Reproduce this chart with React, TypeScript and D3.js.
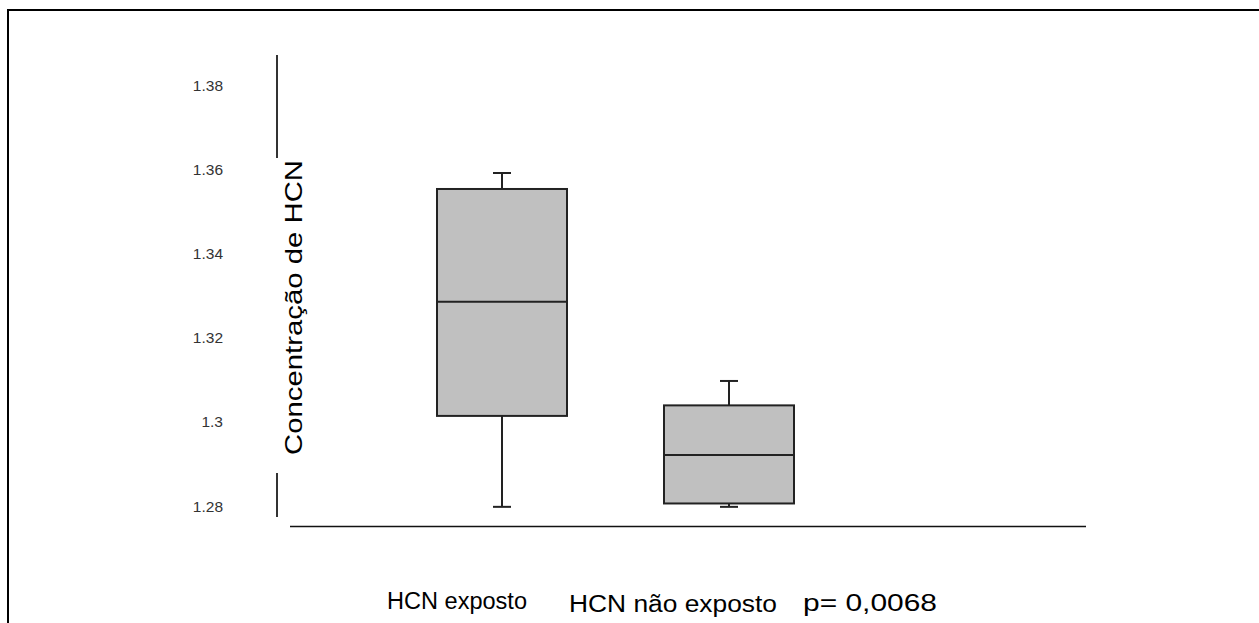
import React, { useEffect, useRef } from "react";
import * as d3 from "d3";

// groups and their box-plot stats
const groups = ["HCN exposto", "HCN não exposto"];
const whiskerHigh = [1.3591, 1.3097];
const q3 = [1.3553, 1.3039];
const median = [1.3285, 1.2921];
const q1 = [1.3014, 1.2806];
const whiskerLow = [1.2798, 1.2798];

const yTicks = [1.28, 1.3, 1.32, 1.34, 1.36, 1.38];
const yTickLabels = ["1.28", "1.3", "1.32", "1.34", "1.36", "1.38"];
const yAxisExtent = [1.2774, 1.3871];

const yTitle = "Concentração de HCN";
const pText = "p= 0,0068";

const W = 1259;
const H = 623;

export default function App() {
  const ref = useRef<SVGSVGElement | null>(null);

  useEffect(() => {
    const svg = d3.select(ref.current);
    svg.selectAll("*").remove();

    svg.append("rect").attr("width", W).attr("height", H).attr("fill", "#fff");

    // outer frame (only top and left show)
    svg.append("path")
      .attr("d", `M8,${H + 2} L8,10 L${W + 2},10`)
      .attr("fill", "none")
      .attr("stroke", "#000")
      .attr("stroke-width", 2);

    const y = d3.scaleLinear().domain([1.28, 1.38]).range([506, 85]);
    const x = d3.scalePoint<string>().domain(groups).range([502, 729]);
    const boxW = 130;
    const capW = 18;

    const g = svg.append("g");

    // y axis line, interrupted by the title
    g.append("line")
      .attr("x1", 277).attr("x2", 277)
      .attr("y1", y(yAxisExtent[1])).attr("y2", y(yAxisExtent[0]))
      .attr("stroke", "#333").attr("stroke-width", 2);

    g.append("rect")
      .attr("x", 268).attr("width", 44)
      .attr("y", 158).attr("height", 315)
      .attr("fill", "#fff");

    g.selectAll(".ytick")
      .data(yTicks)
      .join("text")
      .attr("class", "ytick")
      .attr("x", 223)
      .attr("y", (d) => y(d))
      .attr("dy", "0.36em")
      .attr("text-anchor", "end")
      .attr("font-family", "Liberation Sans, Arial, sans-serif")
      .attr("font-size", 15.5)
      .attr("fill", "#333")
      .text((d, i) => yTickLabels[i]);

    g.append("text")
      .attr("transform", `translate(302,${(160 + 455) / 2}) rotate(-90)`)
      .attr("text-anchor", "middle")
      .attr("font-family", "Liberation Sans, Arial, sans-serif")
      .attr("font-size", 24)
      .attr("textLength", 295)
      .attr("lengthAdjust", "spacingAndGlyphs")
      .attr("fill", "#000")
      .text(yTitle);

    // baseline
    g.append("line")
      .attr("x1", 290).attr("x2", 1086)
      .attr("y1", 526.5).attr("y2", 526.5)
      .attr("stroke", "#111").attr("stroke-width", 1.5);

    const stroke = "#222";
    groups.forEach((grp, i) => {
      const cx = x(grp) as number;
      // whiskers
      g.append("line")
        .attr("x1", cx).attr("x2", cx)
        .attr("y1", y(whiskerHigh[i])).attr("y2", y(q3[i]))
        .attr("stroke", stroke).attr("stroke-width", 2);
      g.append("line")
        .attr("x1", cx).attr("x2", cx)
        .attr("y1", y(q1[i])).attr("y2", y(whiskerLow[i]))
        .attr("stroke", stroke).attr("stroke-width", 2);
      [whiskerHigh[i], whiskerLow[i]].forEach((v) => {
        g.append("line")
          .attr("x1", cx - capW / 2).attr("x2", cx + capW / 2)
          .attr("y1", y(v)).attr("y2", y(v))
          .attr("stroke", stroke).attr("stroke-width", 2);
      });
      g.append("rect")
        .attr("x", cx - boxW / 2)
        .attr("width", boxW)
        .attr("y", y(q3[i]))
        .attr("height", y(q1[i]) - y(q3[i]))
        .attr("fill", "#c0c0c0")
        .attr("stroke", stroke)
        .attr("stroke-width", 2);
      g.append("line")
        .attr("x1", cx - boxW / 2).attr("x2", cx + boxW / 2)
        .attr("y1", y(median[i])).attr("y2", y(median[i]))
        .attr("stroke", stroke).attr("stroke-width", 2);
    });

    // bottom labels
    const labels = [
      { t: groups[0], x: 387, w: 140, base: 609 },
      { t: groups[1], x: 569, w: 208, base: 612 },
      { t: pText, x: 803, w: 134, base: 611 },
    ];
    g.selectAll(".xlab")
      .data(labels)
      .join("text")
      .attr("class", "xlab")
      .attr("x", (d) => d.x)
      .attr("y", (d) => d.base)
      .attr("font-family", "Liberation Sans, Arial, sans-serif")
      .attr("font-size", 23.5)
      .attr("textLength", (d) => d.w)
      .attr("lengthAdjust", "spacingAndGlyphs")
      .attr("fill", "#000")
      .text((d) => d.t);
  }, []);

  return (
    <svg
      ref={ref}
      width={W}
      height={H}
      style={{ position: "absolute", left: 0, top: 0 }}
    />
  );
}
